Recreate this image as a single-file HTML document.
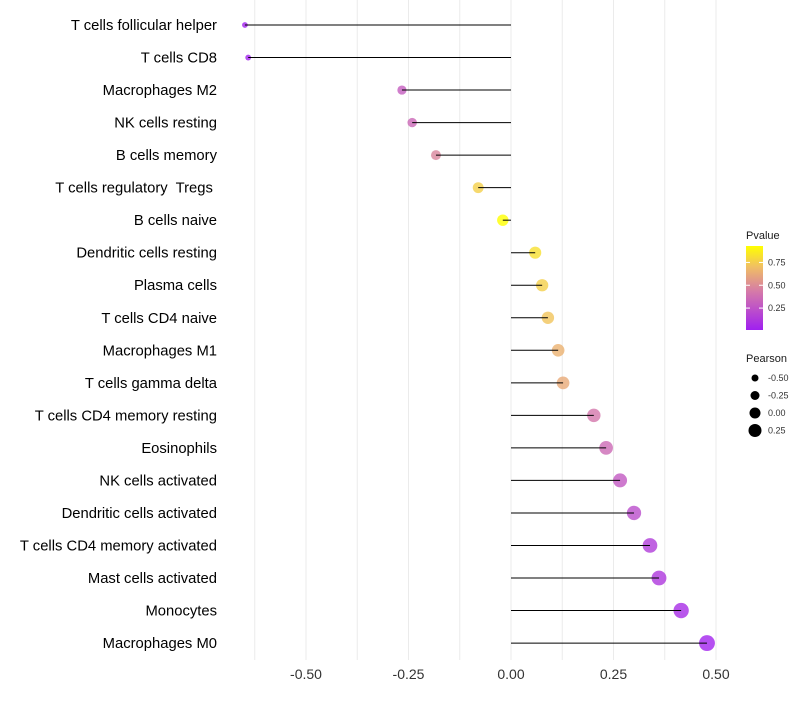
<!DOCTYPE html>
<html><head><meta charset="utf-8"><style>
body{margin:0;background:#fff;font-family:"Liberation Sans",sans-serif}
text{white-space:pre}
</style></head><body>
<svg id="c" width="800" height="700" xmlns="http://www.w3.org/2000/svg"></svg>
<script>
const cats=["T cells follicular helper","T cells CD8","Macrophages M2","NK cells resting","B cells memory","T cells regulatory  Tregs ","B cells naive","Dendritic cells resting","Plasma cells","T cells CD4 naive","Macrophages M1","T cells gamma delta","T cells CD4 memory resting","Eosinophils","NK cells activated","Dendritic cells activated","T cells CD4 memory activated","Mast cells activated","Monocytes","Macrophages M0"];
const pearson=[-0.649,-0.641,-0.266,-0.241,-0.183,-0.080,-0.020,0.059,0.076,0.090,0.115,0.127,0.202,0.232,0.266,0.300,0.339,0.361,0.415,0.478];
const pvals=[0.02,0.03,0.30,0.35,0.48,0.76,0.93,0.82,0.76,0.72,0.65,0.62,0.42,0.36,0.28,0.22,0.14,0.12,0.07,0.03];
const xTicks=[-0.5,-0.25,0,0.25,0.5];
const xTickLabels=["-0.50","-0.25","0.00","0.25","0.50"];
const legP=[0.25,0.5,0.75];
const legPLabels=["0.25","0.50","0.75"];
const legR=[-0.5,-0.25,0,0.25];
const legRLabels=["-0.50","-0.25","0.00","0.25"];

const svg=document.getElementById('c');const NS="http://www.w3.org/2000/svg";
function el(t,a,p){const e=document.createElementNS(NS,t);for(const k in a)e.setAttribute(k,a[k]);(p||svg).appendChild(e);return e;}
const xs=v=>511+v*410;
const ys=i=>25+i*32.53;
const rs=v=>5.8+4.5*v;
function lerp(a,b,t){return a.map((x,i)=>Math.round(x+(b[i]-x)*t));}
const stops=[[0,[160,32,240]],[0.45,[212,120,170]],[0.75,[240,190,100]],[1,[255,255,0]]];
function col(p){const t=Math.max(0,Math.min(1,(p-0.01)/0.92));for(let i=1;i<stops.length;i++){if(t<=stops[i][0]){const a=stops[i-1],b=stops[i];const c=lerp(a[1],b[1],(t-a[0])/(b[0]-a[0]));return `rgb(${c})`;}}return "rgb(255,255,0)";}
for(let k=-0.625;k<=0.6;k+=0.125){const g=el('line',{x1:xs(k),x2:xs(k),y1:0,y2:660,stroke:'#ebebeb','stroke-width':1});

}
xTicks.forEach((v,i)=>{const t=el('text',{x:xs(v),y:679,'text-anchor':'middle','font-size':14,fill:'#333'});t.textContent=xTickLabels[i];

});
cats.forEach((c,i)=>{const y=ys(i);
const t=el('text',{x:217,y:y+5,'text-anchor':'end','font-size':14.8,fill:'#000'});t.textContent=c;


const pt=el('circle',{cx:xs(pearson[i]),cy:y,r:rs(pearson[i]),fill:col(pvals[i]),'fill-opacity':0.8});


const l=el('line',{x1:xs(0),x2:xs(pearson[i]),y1:y,y2:y,stroke:'#000','stroke-width':1});


});
const lt=el('text',{x:746,y:239,'font-size':11,fill:'#1a1a1a'});lt.textContent="Pvalue";


const defs=el('defs',{});const gr=el('linearGradient',{id:'g',x1:0,y1:1,x2:0,y2:0},defs);
[0,0.25,0.45,0.6,0.75,0.9,1].forEach(o=>el('stop',{offset:o,'stop-color':col(0.01+o*0.92)},gr));
const bar=el('rect',{x:746,y:246,width:17,height:84,fill:'url(#g)'});


const py=p=>330-(p-0.01)/0.92*84;
legP.forEach((p,i)=>{el('line',{x1:746,x2:750,y1:py(p),y2:py(p),stroke:'#fff'});el('line',{x1:759,x2:763,y1:py(p),y2:py(p),stroke:'#fff'});
const t=el('text',{x:768,y:py(p)+3,'font-size':9,fill:'#333'});t.textContent=legPLabels[i];

});
const lt2=el('text',{x:746,y:362,'font-size':11,fill:'#1a1a1a'});lt2.textContent="Pearson";


legR.forEach((v,i)=>{const y=378+i*17.5;el('circle',{cx:755,cy:y,r:5.5+4*v,fill:'#000'});
const t=el('text',{x:768,y:y+3,'font-size':9,fill:'#333'});t.textContent=legRLabels[i];

});
</script></body></html>
